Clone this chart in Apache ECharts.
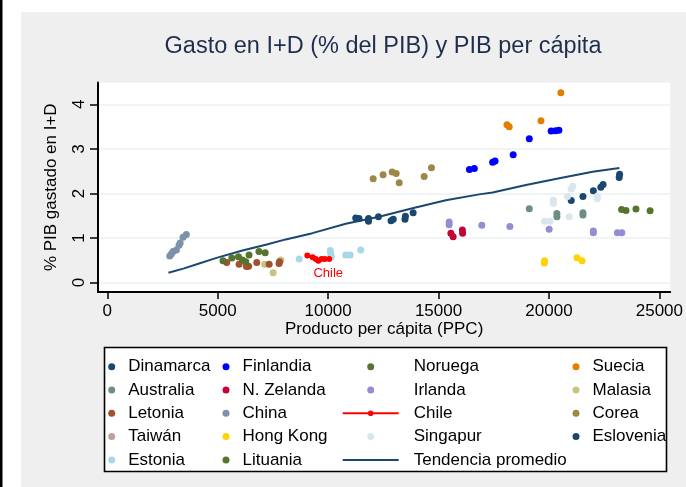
<!DOCTYPE html>
<html><head><meta charset="utf-8">
<script src="https://cdn.jsdelivr.net/npm/echarts@6/dist/echarts.min.js"></script>
<style>html,body{margin:0;padding:0;background:#fff}#c{width:686px;height:487px}</style>
</head><body><div id="c"></div>
<script>
// ---- data ----
const xTicks = [0, 5000, 10000, 15000, 20000, 25000];
const yTicks = [0, 1, 2, 3, 4];

const dinamarca = [[21010,1.84],[21540,1.93],[22010,2.06],[22350,2.14],[22450,2.20],[23180,2.36],[23200,2.43]];
const finlandia = [[16400,2.54],[16620,2.56],[17450,2.70],[17560,2.73],[18380,2.87],[19110,3.23],[20100,3.40],[20300,3.41],[20450,3.42]];
const noruega = [[23290,1.64],[23490,1.62],[23940,1.65],[24580,1.61]];
const suecia = [[18100,3.54],[18200,3.50],[19640,3.63],[20540,4.26]];
const australia = [[19110,1.66],[20360,1.55],[20360,1.48],[21540,1.57],[21540,1.52]];
const nzelanda = [[15560,1.11],[15660,1.03],[16080,1.18],[16090,1.11]];
const irlanda = [[15480,1.36],[15480,1.30],[16960,1.29],[18230,1.26],[20010,1.20],[22010,1.16],[22010,1.12],[23100,1.12],[23300,1.12]];
const malasia = [[7130,0.41],[7510,0.22],[7860,0.51]];
const letonia = [[5410,0.45],[5970,0.41],[6300,0.36],[6400,0.37],[6770,0.45],[7330,0.41],[7780,0.43],[7800,0.47]];
const china = [[2830,0.60],[2900,0.64],[2980,0.70],[3130,0.73],[3250,0.84],[3300,0.89],[3430,1.02],[3580,1.08]];
const chile = [[9060,0.61],[9300,0.57],[9440,0.53],[9560,0.49],[9700,0.53],[9850,0.53],[10050,0.53]];
const corea = [[12040,2.33],[12490,2.42],[12900,2.48],[13080,2.45],[13220,2.24],[14350,2.38],[14680,2.58]];
const taiwan = [];
const hongkong = [[19790,0.44],[19800,0.49],[21270,0.56],[21500,0.49]];
const singapur = [[19800,1.38],[20050,1.38],[20200,1.85],[20200,1.78],[20840,1.93],[20920,1.48],[21000,2.10],[21080,2.16],[22190,1.94],[22190,1.88]];
const eslovenia = [[11250,1.45],[11400,1.44],[11830,1.38],[11830,1.44],[12280,1.48],[12850,1.39],[12950,1.42],[13480,1.42],[13500,1.49],[13850,1.57]];
const estonia = [[8690,0.53],[10100,0.72],[10120,0.65],[10150,0.58],[10800,0.62],[11000,0.62],[11480,0.73]];
const lituania = [[5240,0.49],[5640,0.55],[5940,0.58],[6120,0.51],[6270,0.47],[6420,0.62],[6870,0.70],[7150,0.67]];
const tendencia = [[2770,0.22],[3480,0.32],[4160,0.43],[4910,0.55],[6120,0.72],[7180,0.85],[8080,0.97],[9290,1.11],[10800,1.32],[12310,1.48],[13820,1.67],[15330,1.85],[16840,1.98],[17450,2.02],[18960,2.19],[20470,2.34],[21980,2.49],[23190,2.57]];

const scatterDefs = [
  ['Dinamarca', dinamarca, '#1a476f'],
  ['Finlandia', finlandia, '#0000ff'],
  ['Noruega', noruega, '#55752f'],
  ['Suecia', suecia, '#e37e00'],
  ['Australia', australia, '#6e8e84'],
  ['N. Zelanda', nzelanda, '#c10534'],
  ['Irlanda', irlanda, '#938dd2'],
  ['Malasia', malasia, '#cac27e'],
  ['Letonia', letonia, '#a0522d'],
  ['China', china, '#7b92a8'],
  ['Corea', corea, '#9c8847'],
  ['Taiwán', taiwan, '#bfa19c'],
  ['Hong Kong', hongkong, '#ffd200'],
  ['Singapur', singapur, '#d9e6eb'],
  ['Eslovenia', eslovenia, '#1a476f'],
  ['Estonia', estonia, '#a8d8e8'],
  ['Lituania', lituania, '#55752f']
];

const FONT = '"Liberation Sans", Arial, sans-serif';

const series = scatterDefs.map(([name, data, color]) => ({
  name, type: 'scatter', data, symbol: 'circle', symbolSize: 7,
  itemStyle: { color, opacity: 1 }, clip: false, z: 3
}));
series.push({
  name: 'Chile', type: 'line', data: chile.map((p, i) => i === chile.length - 1 ?
    { value: p, label: { show: true, formatter: 'Chile', position: 'bottom', distance: 5, color: '#ff0000', fontSize: 13, fontFamily: FONT, offset: [-1, 0] } } : p),
  symbol: 'circle', symbolSize: 6, showSymbol: true,
  itemStyle: { color: '#ff0000' }, lineStyle: { color: '#ff0000', width: 2.5 }, z: 4
});
series.push({
  name: 'Tendencia promedio', type: 'line', data: tendencia, symbol: 'none',
  itemStyle: { color: '#1a476f' }, lineStyle: { color: '#1a476f', width: 2 }, z: 5
});

const legendBase = {
  orient: 'vertical', padding: 0, itemGap: 5.3, itemHeight: 7, itemWidth: 23,
  selectedMode: false, top: 357.7,
  textStyle: { fontSize: 17, lineHeight: 18, color: '#000', fontFamily: FONT }
};
const legends = [
  Object.assign({}, legendBase, { left: 108.2, data: ['Dinamarca', 'Australia', 'Letonia', 'Taiwán', 'Estonia'] }),
  Object.assign({}, legendBase, { left: 222.5, data: ['Finlandia', 'N. Zelanda', 'China', 'Hong Kong', 'Lituania'] }),
  Object.assign({}, legendBase, { left: 341.7, itemWidth: 56,
    textStyle: { fontSize: 17, lineHeight: 18, color: '#000', fontFamily: FONT, padding: [0, 0, 0, 10] },
    data: ['Noruega', 'Irlanda', 'Chile', 'Singapur', { name: 'Tendencia promedio', itemStyle: { opacity: 0 } }] }),
  Object.assign({}, legendBase, { left: 572.5, data: ['Suecia', 'Malasia', 'Corea', 'Eslovenia'] })
];

const chart = echarts.init(document.getElementById('c'), null, { renderer: 'canvas' });
chart.setOption({
  backgroundColor: '#ffffff',
  animation: false,
  textStyle: { fontFamily: FONT },
  title: {
    text: 'Gasto en I+D (% del PIB) y PIB per cápita',
    left: 378, top: 30, textAlign: 'center',
    textStyle: { fontSize: 23.5, fontWeight: 'normal', color: '#1f2d4e', fontFamily: FONT }
  },
  graphic: [
    { type: 'rect', z: -100, shape: { x: 21, y: 12, width: 665, height: 475 }, style: { fill: '#efefef' }, silent: true },
    { type: 'rect', z: -100, shape: { x: 0, y: 0, width: 2.5, height: 487 }, style: { fill: '#000' }, silent: true },
    { type: 'rect', z: -50, shape: { x: 104.5, y: 347.5, width: 562, height: 124 }, style: { fill: '#fff', stroke: '#000', lineWidth: 1.6 }, silent: true }
  ],
  grid: { left: 98, top: 82.5, right: 15.3, bottom: 195, show: true, backgroundColor: '#ffffff', borderWidth: 0, containLabel: false },
  xAxis: {
    type: 'value', min: -420, max: 25490,
    axisLine: { show: true, onZero: false, lineStyle: { color: '#000', width: 2 } },
    axisTick: { show: true, length: 7, customValues: xTicks, lineStyle: { color: '#000', width: 1.5 } },
    axisLabel: { customValues: xTicks, fontSize: 17, color: '#000', margin: 11, fontFamily: FONT, formatter: v => String(v) },
    splitLine: { show: false },
    name: 'Producto per cápita (PPC)', nameLocation: 'middle', nameGap: 27,
    nameTextStyle: { fontSize: 17, color: '#000', fontFamily: FONT }
  },
  yAxis: {
    type: 'value', min: -0.21, max: 4.49,
    axisLine: { show: true, onZero: false, lineStyle: { color: '#000', width: 2 } },
    axisTick: { show: true, length: 8, customValues: yTicks, lineStyle: { color: '#000', width: 1.5 } },
    axisLabel: { customValues: yTicks, rotate: 90, fontSize: 17, color: '#000', margin: 10, fontFamily: FONT, formatter: v => String(v) },
    splitLine: { show: true, lineStyle: { color: '#eaf2f3', width: 1.5 } },
    name: '% PIB gastado en I+D', nameLocation: 'middle', nameGap: 38, nameRotate: 90,
    nameTextStyle: { fontSize: 17, color: '#000', fontFamily: FONT }
  },
  legend: legends,
  series
});
</script></body></html>
